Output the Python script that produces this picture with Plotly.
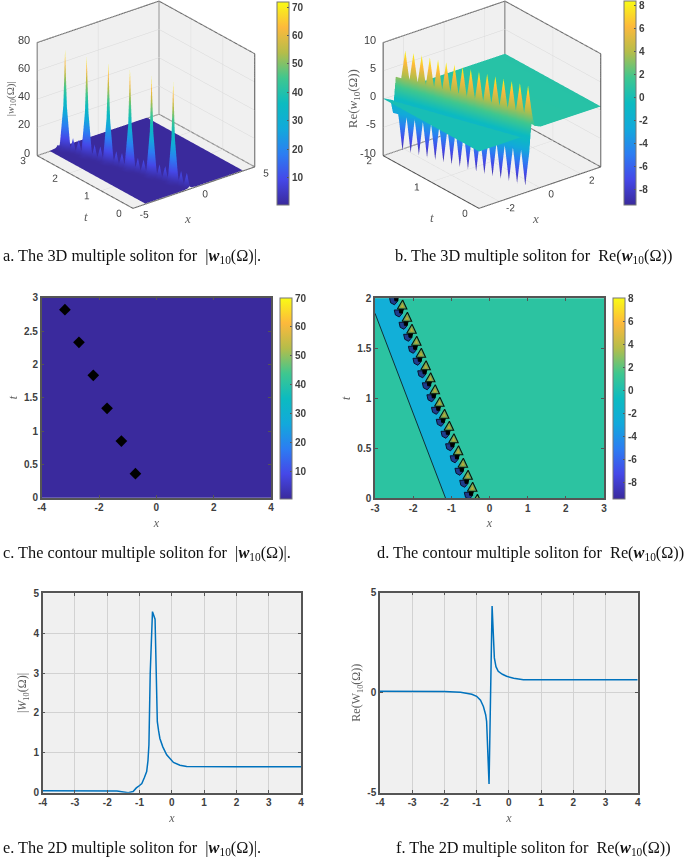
import plotly.graph_objects as go

W = 685
H = 857

# parula-like colour map
parula = [
    [0.0, '#3A2A9C'], [0.125, '#4548E8'], [0.25, '#2C7DF2'], [0.375, '#12A9DB'],
    [0.5, '#0CBBC0'], [0.625, '#3FC78F'], [0.75, '#B5BD4A'], [0.875, '#FDB93C'],
    [1.0, '#F9FB15'],
]

# tick labels
ticks_4 = [-4, -2, 0, 2, 4]
ticks_4_text = ['-4', '-2', '0', '2', '4']
ticks_3 = [-3, -2, -1, 0, 1, 2, 3]
ticks_3_text = ['-3', '-2', '-1', '0', '1', '2', '3']
ticks_4f = [-4, -3, -2, -1, 0, 1, 2, 3, 4]
ticks_4f_text = ['-4', '-3', '-2', '-1', '0', '1', '2', '3', '4']
bar_70 = [10, 20, 30, 40, 50, 60, 70]
bar_8 = [-8, -6, -4, -2, 0, 2, 4, 6, 8]
bar_8_text = ['-8', '-6', '-4', '-2', '0', '2', '4', '6', '8']
a_z_ticks = [0, 20, 40, 60, 80]
b_z_ticks = [-10, -5, 0, 5, 10]

# panel a: |w10| surface, one row per t around the soliton track
a_peak_t = [-0.12, 0.37, 0.86, 1.35, 1.84, 2.33, 2.82]
a_row_dt = [-0.12, -0.04, 0.0, 0.04, 0.12, 0.18, 0.25, 0.31]
a_offsets = [-0.5, -0.18, -0.05, 0.0, 0.05, 0.18, 0.5]
a_rows = [
    [0.5, 1, 2, 3, 2, 1, 0.5],
    [0.5, 2, 14, 32, 14, 2, 0.5],
    [0.5, 3, 32, 72, 32, 3, 0.5],
    [0.5, 2, 14, 32, 14, 2, 0.5],
    [0.5, 1, 2, 3, 2, 1, 0.5],
    [0.5, 1, 5, 11, 5, 1, 0.5],
    [0.5, 0.8, 1.5, 2.5, 1.5, 0.8, 0.5],
    [0.5, 1, 5, 11, 5, 1, 0.5],
]

# panel b: Re(w10) surface
b_t = [0.0, 0.06, 0.12, 0.18, 0.24, 0.30, 0.36, 0.42, 0.48, 0.54, 0.60, 0.66, 0.72,
       0.78, 0.84, 0.90, 0.96, 1.02, 1.08, 1.14, 1.20, 1.26, 1.32, 1.38, 1.44, 1.50,
       1.56, 1.62, 1.68, 1.74, 1.80, 1.86, 1.92, 1.98, 2.0]
b_offsets = [-0.5, -0.2, -0.07, 0.0, 0.07, 0.2, 0.5]
b_peak_row = [0.05, -0.7, -9.2, 0.3, 8.3, 1.5, 0.75]
b_valley_row = [0.05, -0.5, -3.0, 0.3, 3.2, 1.2, 0.75]

# panel c
c_x = [-4, 4]
c_t = [0, 3]
c_z = [[0.4, 0.4], [0.4, 0.4]]
c_dia_x = [-0.73, -1.22, -1.72, -2.2, -2.70, -3.19]
c_dia_t = [0.36, 0.85, 1.34, 1.835, 2.33, 2.82]

# panel d
d_x = [-3, 3]
d_t = [0, 2]
d_z = [[0.7, 0.7], [0.7, 0.7]]
d_band_x = [-1.15, -3.0, -3.0, -2.45, -0.45]
d_band_t = [0.0, 1.85, 2.0, 2.0, 0.0]
d_edge_x = [-1.15, -3.0]
d_edge_t = [0.0, 1.85]
d_lobe_x = [-2.40, -2.275, -2.15, -2.03, -1.905, -1.785, -1.66, -1.54, -1.42, -1.30,
            -1.175, -1.05, -0.93, -0.81, -0.685, -0.56, -0.44, -0.315]
d_lobe_t = [2.105, 1.983, 1.86, 1.74, 1.62, 1.50, 1.375, 1.255, 1.135, 1.01,
            0.89, 0.77, 0.645, 0.525, 0.40, 0.28, 0.16, 0.04]
d_green_dx = [0.0, 0.11, -0.14]
d_green_dt = [0.0, -0.09, -0.09]
d_orange_dx = [-0.01, 0.04, -0.06]
d_orange_dt = [-0.03, -0.075, -0.075]
d_black_dx = [-0.09, 0.02, -0.01, -0.08]
d_black_dt = [-0.09, -0.09, -0.13, -0.13]
d_blue_dx = [-0.22, -0.02, 0.0, -0.09, -0.19]
d_blue_dt = [-0.10, -0.10, -0.13, -0.17, -0.15]

# panels e and f
e_x = [-4, -3, -2, -1.7, -1.5, -1.35, -1.2, -1.1, -1.0, -0.93, -0.85, -0.78, -0.74, -0.71,
       -0.67, -0.6, -0.52, -0.48, -0.45, -0.41, -0.37, -0.28, -0.16, 0.05, 0.25, 0.46, 1, 2, 3, 4]
e_y = [0.05, 0.05, 0.05, 0.04, 0.02, 0.0, 0.03, 0.12, 0.18, 0.23, 0.38, 0.53, 0.8, 1.2,
       3.0, 4.54, 4.35, 2.8, 1.78, 1.55, 1.36, 1.15, 0.95, 0.76, 0.69, 0.66, 0.65, 0.65, 0.65, 0.65]
f_x = [-4, -3, -2, -1.5, -1.3, -1.15, -1, -0.88, -0.79, -0.72, -0.69, -0.615, -0.52, -0.45,
       -0.4, -0.33, -0.2, -0.07, 0.15, 0.45, 1, 2, 3, 4]
f_y = [0.07, 0.07, 0.06, 0.02, -0.03, -0.08, -0.18, -0.38, -0.69, -1.1, -1.44, -4.56, 4.33, 1.74,
       1.3, 1.07, 0.92, 0.82, 0.72, 0.65, 0.65, 0.65, 0.65, 0.65]

# captions
caption_a = 'a. The 3D multiple soliton for  |<b><i>w</i></b><sub>10</sub>(Ω)|.'
caption_b = 'b. The 3D multiple soliton for  Re(<b><i>w</i></b><sub>10</sub>(Ω))'
caption_c = 'c. The contour multiple soliton for  |<b><i>w</i></b><sub>10</sub>(Ω)|.'
caption_d = 'd. The contour multiple soliton for  Re(<b><i>w</i></b><sub>10</sub>(Ω))'
caption_e = 'e. The 2D multiple soliton for  |<b><i>w</i></b><sub>10</sub>(Ω)|.'
caption_f = 'f. The 2D multiple soliton for  Re(<b><i>w</i></b><sub>10</sub>(Ω))'

sans = 'Liberation Sans'
serif = 'Liberation Serif'
tick_font = dict(family=sans, size=10, color='#404040', weight=700)
tick_font_3d = dict(family=sans, size=11, color='#404040')
title_font = dict(family=serif, size=12, color='#606060')


def px(v):
    return v / W


def py(v):
    return 1 - v / H


def colorbar(left, top, bottom, vals, text=None):
    return dict(
        x=px(left), xanchor='left', xpad=0, ypad=0,
        y=py(bottom), yanchor='bottom', len=(bottom - top), lenmode='pixels',
        thickness=12, thicknessmode='pixels',
        tickmode='array', tickvals=vals, ticktext=text if text else [str(v) for v in vals],
        ticks='inside', ticklen=2, tickcolor='#555555',
        tickfont=tick_font, outlinecolor='#777777', outlinewidth=1,
    )


def flat_lighting():
    return dict(ambient=1, diffuse=0, specular=0, roughness=1, fresnel=0)


def box_trace(scene, xr, yr, zr):
    # MATLAB box: floor, three rear verticals and two top edges
    x0, x1, y0, y1, z0, z1 = xr[0], xr[1], yr[0], yr[1], zr[0], zr[1]
    xs = [x0, x1, x1, x0, x0, None, x0, x0, x1, x1, x1, None, x1, x1]
    ys = [y0, y0, y1, y1, y0, None, y1, y1, y1, y0, y0, None, y1, y1]
    zs = [z0, z0, z0, z0, z0, None, z0, z1, z1, z1, z0, None, z0, z1]
    return go.Scatter3d(x=xs, y=ys, z=zs, mode='lines', line=dict(color='#505050', width=2),
                        scene=scene, showlegend=False, hoverinfo='skip')


def scene_axis(rng, vals, text, labels=True):
    return dict(range=rng, tickmode='array', tickvals=vals, ticktext=text, tickangle=0,
                title=dict(text=''), showticklabels=labels,
                tickfont=tick_font_3d, showbackground=True, backgroundcolor='#F0F0F0',
                gridcolor='#D8D8D8', gridwidth=1, zeroline=False, showspikes=False,
                showline=False, ticks='')


def scene_labels(xr, yr, z_ticks, z_mid, x_mid, t_mid, z_title, z_size, shifts):
    # z tick labels and the three axis titles, pinned to box corners and edges
    items = []
    for v in z_ticks:
        items.append(dict(x=xr[0], y=yr[1], z=v, text=str(v), showarrow=False, xanchor='right',
                          yanchor='middle', xshift=-5, yshift=3, font=tick_font_3d))
    items.append(dict(x=xr[0], y=yr[1], z=z_mid, text=z_title, showarrow=False, textangle=-90,
                      xshift=shifts[0], font=dict(family=serif, size=z_size, color='#606060')))
    items.append(dict(x=x_mid, y=yr[0], z=z_ticks[0], text='<i>x</i>', showarrow=False,
                      xshift=shifts[1], yshift=shifts[2], font=dict(family=serif, size=13, color='#606060')))
    items.append(dict(x=xr[0], y=t_mid, z=z_ticks[0], text='<i>t</i>', showarrow=False,
                      xshift=shifts[3], yshift=shifts[4], font=dict(family=serif, size=13, color='#606060')))
    return items


fig = go.Figure()

# panel a surface
a_t_grid = [[0.0] * 9]
a_x_grid = [[-4] + [-0.36 + s for s in a_offsets] + [4]]
a_z_grid = [[0.5] + a_rows[6] + [0.5]]
for t_p in a_peak_t:
    for dt, row in zip(a_row_dt, a_rows):
        t = t_p + dt
        if t <= 0 or t >= 3:
            continue
        track = -0.36 - t
        a_t_grid.append([t] * 9)
        a_x_grid.append([-4] + [track + s for s in a_offsets] + [4])
        a_z_grid.append([0.5] + row + [0.5])
a_t_grid.append([3.0] * 9)
a_x_grid.append([-4] + [-3.36 + s for s in a_offsets] + [4])
a_z_grid.append([0.5] + a_rows[6] + [0.5])

fig.add_trace(go.Surface(x=a_x_grid, y=a_t_grid, z=a_z_grid, surfacecolor=a_z_grid, cmin=0.4, cmax=71.8,
                         colorscale=parula, lighting=flat_lighting(), scene='scene',
                         colorbar=colorbar(277, 2, 205, bar_70)))
fig.add_trace(box_trace('scene', [-5, 5], [0, 3], [0, 80]))

# panel b surface
b_x_grid, b_t_grid, b_z_grid = [], [], []
for i, t in enumerate(b_t):
    track = -0.45 - t
    b_x_grid.append([-3] + [track + s for s in b_offsets] + [3])
    b_t_grid.append([t] * 9)
    row = b_peak_row if i % 2 == 1 and t < 1.9 else b_valley_row
    b_z_grid.append([0.05] + row + [0.7])

fig.add_trace(go.Surface(x=b_x_grid, y=b_t_grid, z=b_z_grid, surfacecolor=b_z_grid, cmin=-9.35, cmax=8.4,
                         colorscale=parula, lighting=flat_lighting(), scene='scene2',
                         colorbar=colorbar(624, 1, 205, bar_8, bar_8_text)))
fig.add_trace(box_trace('scene2', [-3, 3], [0, 2], [-10, 10]))

# panel c
fig.add_trace(go.Heatmap(x=c_x, y=c_t, z=c_z, zmin=0.3, zmax=70, colorscale=parula, xaxis='x', yaxis='y',
                         colorbar=colorbar(280, 298, 499, bar_70)))
fig.add_trace(go.Scatter(x=c_dia_x, y=c_dia_t, mode='markers', xaxis='x', yaxis='y', showlegend=False,
                         marker=dict(symbol='diamond', size=9, color='black')))

# panel d
fig.add_trace(go.Heatmap(x=d_x, y=d_t, z=d_z, zmin=-9.4, zmax=8.05, colorscale=parula, xaxis='x2', yaxis='y2',
                         colorbar=colorbar(613, 298, 499, bar_8, bar_8_text)))
fig.add_trace(go.Scatter(x=d_band_x, y=d_band_t, mode='lines', fill='toself', fillcolor='#12AFD8',
                         line=dict(width=0), xaxis='x2', yaxis='y2', showlegend=False))
fig.add_trace(go.Scatter(x=d_edge_x, y=d_edge_t, mode='lines', line=dict(color='#10303A', width=1),
                         xaxis='x2', yaxis='y2', showlegend=False))


def lobes(dx, dt, fill, line, width=0.8):
    xs, ts = [], []
    for lx, lt in zip(d_lobe_x, d_lobe_t):
        xs += [lx + v for v in dx] + [lx + dx[0], None]
        ts += [lt + v for v in dt] + [lt + dt[0], None]
    return go.Scatter(x=xs, y=ts, mode='lines', fill='toself', fillcolor=fill,
                      line=dict(color=line, width=width), xaxis='x2', yaxis='y2', showlegend=False)


fig.add_trace(lobes(d_blue_dx, d_blue_dt, '#1E3C8C', '#0A1230', 1))
fig.add_trace(lobes(d_black_dx, d_black_dt, '#000000', '#000000', 1))
fig.add_trace(lobes(d_green_dx, d_green_dt, '#5FA868', '#0A150A', 1.1))
fig.add_trace(lobes(d_orange_dx, d_orange_dt, '#B8B040', '#98A038'))

# panels e, f
fig.add_trace(go.Scatter(x=e_x, y=e_y, mode='lines', line=dict(color='#0072BD', width=1.5),
                         xaxis='x3', yaxis='y3', showlegend=False))
fig.add_trace(go.Scatter(x=f_x, y=f_y, mode='lines', line=dict(color='#0072BD', width=1.5),
                         xaxis='x4', yaxis='y4', showlegend=False))


def ax2d(left, right, rng, vals, text, title, anchor, grid=False):
    return dict(domain=[px(left), px(right)], range=rng, tickmode='array', tickvals=vals, ticktext=text,
                showline=True, linecolor='#555555', anchor=anchor,
                linewidth=1.5, mirror='ticks', ticks='inside', ticklen=3, tickcolor='#555555',
                tickfont=tick_font, title=dict(text=title, font=title_font, standoff=6),
                showgrid=grid, gridcolor='#D2D2D2', zeroline=False, layer='above traces')


def ay2d(top, bottom, rng, vals, text, title, anchor, grid=False):
    return dict(domain=[py(bottom), py(top)], range=rng, tickmode='array', tickvals=vals, ticktext=text,
                showline=True, linecolor='#555555', anchor=anchor,
                linewidth=1.5, mirror='ticks', ticks='inside', ticklen=3, tickcolor='#555555',
                tickfont=tick_font, title=dict(text=title, font=title_font, standoff=4),
                showgrid=grid, gridcolor='#D2D2D2', zeroline=False, layer='above traces')


def make_scene(left, right, top, bottom, xa, ya, za, labels):
    return dict(domain=dict(x=[px(left), px(right)], y=[py(bottom), py(top)]),
                xaxis=xa, yaxis=ya, zaxis=za, annotations=labels,
                aspectmode='manual', aspectratio=dict(x=1.24, y=1.24, z=1.004),
                camera=dict(projection=dict(type='orthographic'),
                            eye=dict(x=-1.03, y=-1.31, z=0.62), up=dict(x=0, y=0, z=1),
                            center=dict(x=0, y=0, z=-0.18)))


fig.update_layout(
    width=W, height=H, margin=dict(l=0, r=0, t=0, b=0, autoexpand=False),
    paper_bgcolor='white', plot_bgcolor='#F0F0F0',
    showlegend=False,
    font=dict(family=sans),
    scene=make_scene(11, 281, 0, 250,
                     scene_axis([-5, 5], [-5, 0, 5], ['-5', '0', '5']),
                     scene_axis([0, 3], [0, 1, 2, 3], ['0', '1', '2', '3']),
                     scene_axis([0, 80], a_z_ticks, [str(v) for v in a_z_ticks], False),
                     scene_labels([-5, 5], [0, 3], a_z_ticks, 40, 0, 1.5,
                                  '|<i>w</i><sub>10</sub>(Ω)|', 11, [-26, -6, -31, 1, -34])),
    scene2=make_scene(357, 627, 0, 250,
                      scene_axis([-3, 3], [-2, 0, 2], ['-2', '0', '2']),
                      scene_axis([0, 2], [0, 1, 2], ['0', '1', '2']),
                      scene_axis([-10, 10], b_z_ticks, [str(v) for v in b_z_ticks], False),
                      scene_labels([-3, 3], [0, 2], b_z_ticks, 0, 0, 1,
                                   'Re(<i>w</i><sub>10</sub>(Ω))', 13, [-30, -4, -31, 1, -35])),
    xaxis=ax2d(41.7, 271, [-4, 4], ticks_4, ticks_4_text, '<i>x</i>', 'y'),
    yaxis=ay2d(297.7, 497.7, [0, 3], [0, 0.5, 1, 1.5, 2, 2.5, 3], ['0', '0.5', '1', '1.5', '2', '2.5', '3'],
               '<i>t</i>', 'x'),
    xaxis2=ax2d(375, 604, [-3, 3], ticks_3, ticks_3_text, '<i>x</i>', 'y2'),
    yaxis2=ay2d(298.3, 498.3, [0, 2], [0, 0.5, 1, 1.5, 2], ['0', '0.5', '1', '1.5', '2'], '<i>t</i>', 'x2'),
    xaxis3=ax2d(42.7, 301, [-4, 4], ticks_4f, ticks_4f_text, '<i>x</i>', 'y3', True),
    yaxis3=ay2d(593.3, 792.7, [0, 5], [0, 1, 2, 3, 4, 5], ['0', '1', '2', '3', '4', '5'],
                '|<i>W</i><sub>10</sub>(Ω)|', 'x3', True),
    xaxis4=ax2d(380, 637.7, [-4, 4], ticks_4f, ticks_4f_text, '<i>x</i>', 'y4', True),
    yaxis4=ay2d(592.7, 792.7, [-5, 5], [-5, 0, 5], ['-5', '0', '5'], 'Re(W<sub>10</sub>(Ω))', 'x4', True),
)

captions = [
    (caption_a, 1, 256), (caption_b, 393, 256),
    (caption_c, 1, 553), (caption_d, 375, 553),
    (caption_e, 1, 848), (caption_f, 394, 848),
]
for text, left, mid in captions:
    fig.add_annotation(text=text, x=px(left), y=py(mid), xref='paper', yref='paper', xanchor='left',
                       yanchor='middle', showarrow=False, font=dict(family=serif, size=16.3, color='#111111'))

# page body has a default margin that would shift everything
fig.write_html("out.html", config=dict(displayModeBar=False), post_script="document.body.style.margin='0';")
